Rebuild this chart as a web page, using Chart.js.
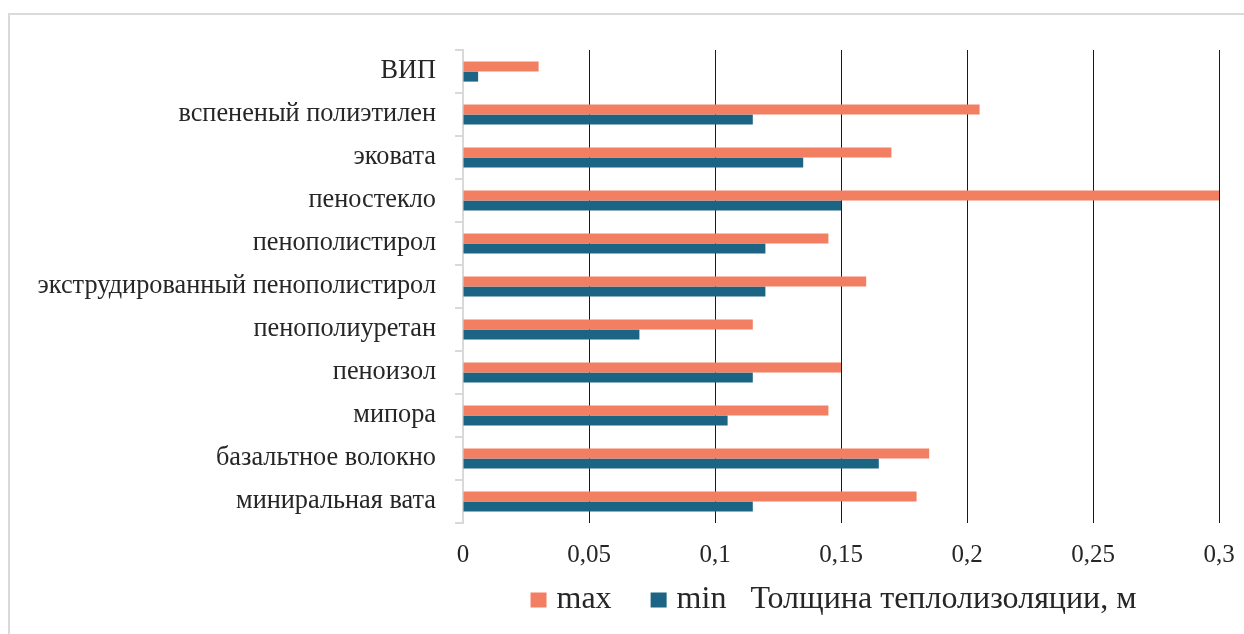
<!DOCTYPE html>
<html>
<head>
<meta charset="utf-8">
<script src="https://cdn.jsdelivr.net/npm/chart.js@4"></script>
<style>
  html, body { margin: 0; padding: 0; background: #fff; overflow: hidden; }
  #frame { position: absolute; left: 8px; top: 13px; width: 1300px; height: 700px;
           border: 2px solid #dadada; box-sizing: border-box; }
  #wrap { position: absolute; left: 0; top: 0; width: 1244px; height: 634px; }
</style>
</head>
<body>
<div id="frame"></div>
<div id="wrap"><canvas id="c" width="1244" height="634"></canvas></div>
<script>
// Insulation materials, listed top to bottom
const categories = [
  'ВИП',
  'вспененый полиэтилен',
  'эковата',
  'пеностекло',
  'пенополистирол',
  'экструдированный пенополистирол',
  'пенополиуретан',
  'пеноизол',
  'мипора',
  'базальтное волокно',
  'миниральная вата'
];

// Insulation thickness, metres
const maxValues = [0.03, 0.205, 0.17, 0.3, 0.145, 0.16, 0.115, 0.15, 0.145, 0.185, 0.18];
const minValues = [0.006, 0.115, 0.135, 0.15, 0.12, 0.12, 0.07, 0.115, 0.105, 0.165, 0.115];

const seriesNames = ['max', 'min'];
const seriesColors = ['#f37f63', '#1c6484'];

const xTickValues = [0, 0.05, 0.1, 0.15, 0.2, 0.25, 0.3];
const xTickLabels = ['0', '0,05', '0,1', '0,15', '0,2', '0,25', '0,3'];

const axisTitle = 'Толщина теплолизоляции, м';

const FONT = "'Liberation Serif', 'Times New Roman', serif";
const TEXT = '#262626';

Chart.defaults.font.family = FONT;
Chart.defaults.color = TEXT;

// Legend row: coloured squares with series names, followed by the axis title
const legendRow = {
  id: 'legendRow',
  afterDraw(chart) {
    const { ctx, chartArea } = chart;
    const boxW = 16, boxH = 15, toText = 10, itemGap = 39, titleGap = 24;
    const y = 600;
    ctx.save();
    ctx.font = '32px ' + FONT;
    ctx.textBaseline = 'middle';
    const items = chart.data.datasets.map(d => ({ label: d.label, color: d.backgroundColor,
      w: ctx.measureText(d.label).width }));
    const titleW = ctx.measureText(axisTitle).width;
    let total = 0;
    items.forEach((it, i) => { total += boxW + toText + it.w + (i < items.length - 1 ? itemGap : 0); });
    total += titleGap + titleW;
    let x = (chartArea.left + chartArea.right) / 2 - 7.5 - total / 2;
    items.forEach((it, i) => {
      ctx.fillStyle = it.color;
      ctx.fillRect(x, y - boxH / 2, boxW, boxH);
      x += boxW + toText;
      ctx.fillStyle = TEXT;
      ctx.fillText(it.label, x, y);
      x += it.w + (i < items.length - 1 ? itemGap : 0);
    });
    x += titleGap;
    ctx.fillStyle = TEXT;
    ctx.fillText(axisTitle, x, y);
    ctx.restore();
  }
};

new Chart(document.getElementById('c'), {
  type: 'bar',
  data: {
    labels: categories,
    datasets: [
      { label: seriesNames[0], data: maxValues, backgroundColor: seriesColors[0] },
      { label: seriesNames[1], data: minValues, backgroundColor: seriesColors[1] }
    ]
  },
  options: {
    indexAxis: 'y',
    responsive: false,
    animation: false,
    events: [],
    datasets: {
      bar: { barPercentage: 1, categoryPercentage: 0.47, borderWidth: 0 }
    },
    layout: { padding: { top: 50, right: 25, left: 0, bottom: 0 } },
    plugins: {
      legend: { display: false },
      tooltip: { enabled: false }
    },
    scales: {
      x: {
        type: 'linear',
        min: 0,
        max: 0.3,
        afterBuildTicks: s => { s.ticks = xTickValues.map(v => ({ value: v })); },
        afterFit: s => { s.height = 111; },
        ticks: {
          padding: 0,
          font: { size: 25 },
          color: TEXT,
          callback: (v, i) => xTickLabels[i]
        },
        grid: {
          drawTicks: true,
          tickLength: 17,
          tickColor: 'rgba(0,0,0,0)',
          lineWidth: 1,
          color: c => (c.tick && c.tick.value === 0) ? 'rgba(0,0,0,0)' : '#1a1a1a'
        },
        border: { display: false }
      },
      y: {
        type: 'category',
        afterFit: s => { s.width = 463; },
        ticks: { padding: 19, font: { size: 26.3 }, color: TEXT, autoSkip: false },
        grid: {
          drawOnChartArea: false,
          drawTicks: true,
          tickLength: 8,
          lineWidth: 2,
          color: '#d9d9d9'
        },
        border: { display: true, color: '#d9d9d9', width: 2 }
      }
    }
  },
  plugins: [legendRow]
});
</script>
</body>
</html>
